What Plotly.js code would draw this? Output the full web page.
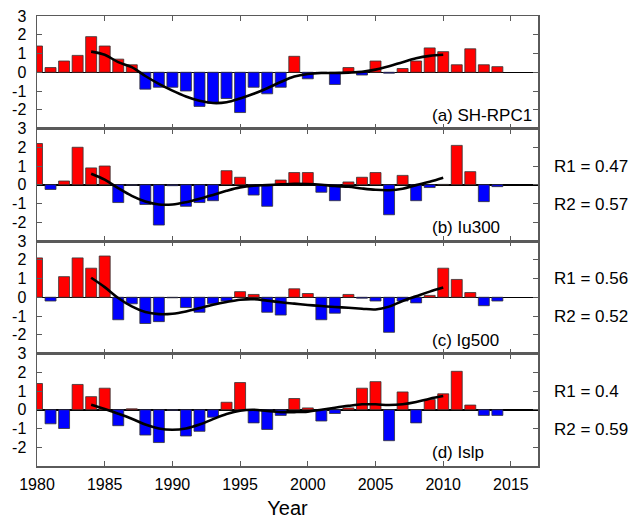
<!DOCTYPE html>
<html>
<head>
<meta charset="utf-8">
<script src="https://cdn.plot.ly/plotly-3.0.1.min.js"></script>
<style>html,body{margin:0;padding:0;background:#fff;}#chart{width:638px;height:519px;}</style>
</head>
<body>
<div id="chart"></div>
<script>
const years = [1980,1981,1982,1983,1984,1985,1986,1987,1988,1989,1990,1991,1992,1993,1994,1995,1996,1997,1998,1999,2000,2001,2002,2003,2004,2005,2006,2007,2008,2009,2010,2011,2012,2013,2014];
const sh_rpc1 = [1.4,0.25,0.6,0.9,1.9,1.4,0.7,0.4,-0.9,-0.8,-0.8,-1.0,-1.82,-1.65,-1.4,-2.15,-0.8,-1.15,-0.8,0.85,-0.35,-0.05,-0.65,0.25,-0.15,0.6,-0.05,0.2,0.6,1.3,1.1,0.4,1.25,0.4,0.3];
const iu300 = [2.2,-0.25,0.2,2.0,0.9,1.0,-0.95,-0.02,-1.05,-2.15,-0.05,-1.15,-0.95,-0.85,0.75,0.4,-0.55,-1.15,0.25,0.65,0.65,-0.4,-0.85,0.15,0.4,0.65,-1.6,0.5,-0.85,-0.15,0.02,2.1,0.7,-0.9,-0.1];
const ig500 = [2.1,-0.2,1.1,2.1,1.55,2.2,-1.2,-0.35,-1.4,-1.3,-0.03,-0.55,-0.8,-0.35,-0.2,0.3,0.15,-0.8,-0.95,0.45,0.2,-1.2,-0.85,0.15,-0.05,-0.2,-1.87,-0.2,-0.3,0.1,1.55,0.95,0.25,-0.45,-0.2];
const islp = [1.4,-0.75,-1.0,1.35,0.7,1.15,-0.85,0.05,-1.35,-1.75,-0.02,-1.4,-1.15,-0.4,0.4,1.45,-0.7,-1.05,-0.3,0.6,0.1,-0.6,-0.2,0.1,1.15,1.5,-1.65,0.95,-0.7,0.55,0.85,2.05,0.25,-0.3,-0.3];

const curveYears = [1984,1985,1986,1987,1988,1989,1990,1991,1992,1993,1994,1995,1996,1997,1998,1999,2000,2001,2002,2003,2004,2005,2006,2007,2008,2009,2010];
const curveA = [1.1,0.93,0.54,0.27,-0.2,-0.62,-0.98,-1.29,-1.52,-1.64,-1.6,-1.4,-1.15,-0.85,-0.52,-0.23,-0.09,-0.04,-0.04,-0.02,0.02,0.14,0.32,0.54,0.75,0.875,0.93];
const curveB = [0.59,0.27,-0.18,-0.59,-0.89,-1.05,-1.05,-0.93,-0.75,-0.54,-0.32,-0.14,-0.05,-0.02,0.02,0.05,0.04,0.0,-0.07,-0.11,-0.2,-0.27,-0.29,-0.21,-0.02,0.16,0.375];
const curveC = [1.04,0.54,-0.04,-0.49,-0.79,-0.9,-0.88,-0.76,-0.58,-0.4,-0.25,-0.13,-0.1,-0.18,-0.27,-0.34,-0.41,-0.47,-0.52,-0.56,-0.61,-0.65,-0.5,-0.2,0.05,0.3,0.52];
const curveD = [0.27,0.04,-0.21,-0.48,-0.79,-1.0,-1.07,-1.0,-0.79,-0.5,-0.23,-0.05,0.0,-0.07,-0.125,-0.125,-0.1,0.0,0.11,0.21,0.29,0.29,0.25,0.29,0.41,0.59,0.73];

const panelLabels = ['(a) SH-RPC1','(b) Iu300','(c) Ig500','(d) Islp'];
const r1Labels = [null,'R1 = 0.47','R1 = 0.56','R1 = 0.4'];
const r2Labels = [null,'R2 = 0.57','R2 = 0.52','R2 = 0.59'];

const series = [sh_rpc1, iu300, ig500, islp];
const curves = [curveA, curveB, curveC, curveD];

const FONT = 'Liberation Sans, Arial, sans-serif';
const frameColor = '#5a5a5a';
const traces = [];
const layout = {
  width: 638, height: 519,
  margin: {l: 37, r: 100, t: 16, b: 53},
  paper_bgcolor: '#fff', plot_bgcolor: '#fff',
  showlegend: false,
  bargap: 0.19,
  font: {family: FONT, color: '#000', size: 16},
  annotations: []
};

for (let i = 0; i < 4; i++) {
  const n = i + 1;
  const xa = 'x' + (n === 1 ? '' : n);
  const ya = 'y' + (n === 1 ? '' : n);
  const vals = series[i];
  traces.push({
    type: 'bar', x: years, y: vals, xaxis: xa, yaxis: ya,
    marker: {color: vals.map(v => v >= 0 ? '#ff0000' : '#0000ff'), line: {color: '#333', width: 0.8}},
    hoverinfo: 'x+y'
  });
  traces.push({
    type: 'scatter', mode: 'lines', x: curveYears, y: curves[i], xaxis: xa, yaxis: ya,
    line: {color: '#000', width: 2.6, shape: 'spline', smoothing: 1}
  });
  const top = 1 - i * 0.25, bot = 1 - (i + 1) * 0.25;
  const xKey = 'xaxis' + (n === 1 ? '' : n);
  const yKey = 'yaxis' + (n === 1 ? '' : n);
  layout[xKey] = {
    domain: [0, 1], anchor: ya, range: [1980, 2017],
    tickvals: [1980,1985,1990,1995,2000,2005,2010,2015],
    ticks: 'inside', ticklen: 5, tickcolor: frameColor, tickwidth: 1,
    showline: true, linecolor: frameColor, linewidth: 1.5, mirror: 'ticks',
    showgrid: false, zeroline: false,
    showticklabels: i === 3,
    tickfont: {family: FONT, size: 16, color: '#000'},
    ticklabelstandoff: 3
  };
  if (i === 3) {
    layout[xKey].title = {text: 'Year', font: {family: FONT, size: 20, color: '#000'}, standoff: 12};
  }
  layout[yKey] = {
    domain: [bot, top], anchor: xa, range: [-3, 3],
    tickvals: [-3,-2,-1,0,1,2,3], ticktext: ['','-2','-1','0','1','2','3'],
    ticks: 'inside', ticklen: 5, tickcolor: frameColor, tickwidth: 1,
    showline: true, linecolor: frameColor, linewidth: 1.5, mirror: 'ticks',
    showgrid: false, zeroline: true, zerolinecolor: '#000', zerolinewidth: 1.5,
    tickfont: {family: FONT, size: 16, color: '#000'},
    ticklabelstandoff: 6
  };
  layout.annotations.push({
    xref: xa, yref: ya, x: 2009, y: -2.3, xanchor: 'left', yanchor: 'middle',
    text: panelLabels[i], showarrow: false, font: {family: FONT, size: 17, color: '#000'}
  });
  if (r1Labels[i]) {
    layout.annotations.push({
      xref: 'paper', yref: ya, x: 1.027, y: 1.0, xanchor: 'left', yanchor: 'middle',
      text: r1Labels[i], showarrow: false, font: {family: FONT, size: 17, color: '#000'}
    });
    layout.annotations.push({
      xref: 'paper', yref: ya, x: 1.027, y: -1.05, xanchor: 'left', yanchor: 'middle',
      text: r2Labels[i], showarrow: false, font: {family: FONT, size: 17, color: '#000'}
    });
  }
}

Plotly.newPlot('chart', traces, layout, {displayModeBar: false, staticPlot: true});
</script>
</body>
</html>
